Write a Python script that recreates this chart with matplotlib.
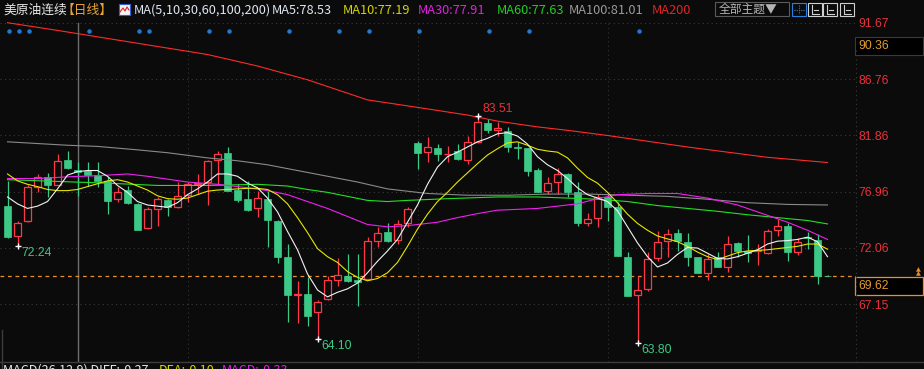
import numpy as np
import matplotlib.pyplot as plt
from matplotlib.patches import Rectangle
from matplotlib.lines import Line2D
from matplotlib.transforms import blended_transform_factory

# ---- daily candles (oldest -> newest) ----
opens = [75.74, 73.08, 74.38, 77.34, 78.27, 77.55, 79.75, 78.85, 78.73, 78.38,
         77.92, 76.29, 77.14, 75.92, 73.80, 75.42, 76.24, 75.60, 76.70, 77.63,
         77.77, 79.75, 80.36, 77.14, 76.35, 75.54, 76.35, 74.44, 71.30, 67.94,
         68.06, 66.46, 67.62, 69.28, 69.65, 69.30, 69.36, 72.64, 73.48, 72.76,
         74.20, 81.20, 80.42, 80.76, 80.20, 80.53, 79.72, 81.25, 82.97, 82.33,
         82.21, 80.88, 80.73, 78.88, 76.99, 77.77, 78.50, 76.96, 74.23, 74.67,
         76.47, 75.60, 71.30, 67.97, 68.49, 71.19, 72.64, 73.39, 72.61, 71.24,
         69.85, 71.24, 70.43, 72.52, 71.77, 71.77, 71.59, 73.62, 74.00, 71.68,
         73.04, 72.76, 69.66]
highs = [77.92, 74.44, 77.50, 78.50, 78.60, 80.24, 80.53, 79.51, 79.50, 79.50,
         78.20, 77.34, 77.48, 75.95, 75.66, 76.47, 76.30, 77.77, 77.77, 78.50,
         79.70, 80.53, 80.88, 77.63, 77.86, 77.05, 77.05, 74.50, 72.40, 69.22,
         69.50, 67.53, 69.65, 71.19, 71.50, 71.50, 72.99, 73.85, 74.23, 74.50,
         75.60, 81.40, 81.75, 81.12, 80.97, 81.12, 81.78, 83.51, 83.29, 83.00,
         82.62, 81.25, 80.75, 79.02, 78.27, 79.02, 78.55, 77.83, 75.13, 76.76,
         76.76, 76.03, 71.68, 69.65, 71.68, 73.57, 73.68, 73.70, 73.36, 71.30,
         71.53, 71.68, 73.13, 72.55, 73.21, 72.41, 73.71, 74.58, 74.23, 72.93,
         73.42, 73.27, 69.70]
lows = [72.95, 72.24, 74.30, 76.90, 76.47, 77.50, 78.90, 76.61, 77.48, 77.34,
        75.02, 76.03, 75.89, 73.60, 73.75, 74.00, 74.87, 75.55, 76.03, 76.76,
        75.80, 77.63, 77.00, 76.03, 75.30, 74.72, 72.17, 70.72, 65.60, 65.50,
        65.30, 64.10, 67.55, 68.78, 69.07, 67.00, 69.30, 72.11, 72.60, 72.41,
        73.85, 78.93, 79.51, 79.66, 79.51, 79.72, 79.37, 81.20, 82.04, 81.84,
        80.40, 79.80, 78.35, 76.90, 76.76, 76.76, 76.47, 74.00, 74.00, 73.85,
        74.44, 71.35, 67.90, 63.80, 68.35, 70.96, 71.24, 71.83, 70.52, 69.85,
        69.30, 70.37, 69.94, 71.30, 70.81, 70.58, 71.55, 73.07, 70.90, 71.45,
        71.97, 68.93, 69.60]
closes = [72.99, 74.26, 77.37, 78.27, 77.55, 79.66, 79.00, 78.68, 78.38, 77.86,
          76.18, 76.90, 76.00, 73.65, 75.45, 76.32, 75.60, 76.55, 77.60, 77.74,
          79.66, 80.24, 77.05, 76.27, 75.39, 76.41, 74.52, 71.30, 67.99, 68.06,
          66.11, 67.36, 69.28, 69.74, 69.22, 69.07, 72.70, 73.36, 72.64, 74.15,
          75.45, 80.30, 80.85, 80.24, 80.26, 79.77, 81.29, 83.05, 82.33, 82.50,
          80.82, 80.73, 78.79, 76.96, 77.72, 78.50, 76.96, 74.20, 74.58, 76.53,
          75.60, 71.39, 67.91, 68.40, 71.08, 72.55, 73.27, 72.64, 71.24, 69.85,
          71.10, 70.37, 72.41, 71.77, 71.59, 71.91, 73.57, 74.00, 71.68, 72.61,
          72.93, 69.62, 69.62]

# ---- moving average lines as drawn on the chart ----
ma5 = [76.5, 75.9, 75.5, 75.7, 76.1, 77.2, 78.4, 78.7, 78.8, 78.8,
       78.3, 77.5, 76.9, 76.1, 75.8, 75.7, 75.6, 76.0, 76.7, 77.2,
       77.8, 78.5, 78.5, 78.3, 77.7, 77.3, 76.4, 75.2, 73.5, 71.9,
       69.8, 68.4, 67.8, 68.2, 68.5, 69.0, 69.9, 70.9, 71.8, 72.8,
       74.3, 75.8, 77.6, 79.1, 80.0, 80.4, 80.85, 81.3, 81.6, 82.0,
       82.1, 81.8, 81.1, 80.0, 79.3, 78.8, 78.1, 77.3, 76.7, 76.4,
       76.1, 75.3, 73.9, 72.5, 71.3, 70.4, 70.75, 71.5, 72.1, 72.05,
       71.6, 71.15, 71.1, 71.3, 71.6, 71.9, 72.4, 72.65, 72.7, 72.8,
       73.0, 72.6, 71.3]
ma10 = [78.5, 77.9, 77.6, 77.4, 77.15, 77.05, 77.05, 77.15, 77.4, 77.65,
        77.9, 78.0, 77.8, 77.45, 77.1, 76.6, 76.35, 76.3, 76.4, 76.7,
        77.0, 77.1, 77.15, 77.2, 77.25, 77.25, 77.15, 76.7, 75.9, 74.7,
        73.4, 72.0, 71.3, 70.8, 70.0, 69.5, 69.2, 69.4, 69.9, 70.8,
        72.2, 73.7, 75.0, 76.1, 76.9, 77.8, 78.6, 79.4, 80.15, 80.7,
        81.2, 81.3, 81.0, 80.65, 80.5, 80.4, 79.9, 79.0, 78.2, 77.7,
        76.9, 76.0, 75.0, 74.2, 73.6, 73.1, 72.85, 72.6, 72.2, 71.7,
        71.3, 71.05, 71.35, 71.65, 71.8, 71.85, 71.9, 72.0, 72.1, 72.2,
        72.4, 72.4, 71.95]
ma30_idx = [0, 3, 6, 9, 12, 14, 18, 21, 24, 26, 28, 30, 32, 34, 36, 38, 40, 43,
            45, 47, 49, 51, 53, 55, 57, 59, 61, 64, 67, 70, 73, 76, 78, 80, 82]
ma30 = [78.1, 78.1, 78.25, 78.35, 78.5, 78.3, 77.8, 77.6, 77.3, 77.05, 76.7,
        76.1, 75.5, 74.8, 74.1, 73.9, 74.0, 74.3, 74.7, 75.05, 75.35, 75.42,
        75.5, 75.7, 75.9, 76.35, 76.7, 76.8, 76.8, 76.4, 75.8, 74.9, 74.3,
        73.6, 72.8]
ma60_idx = [0, 5, 10, 15, 20, 25, 28, 30, 32, 34, 36, 38, 40, 44, 49, 53, 56,
            59, 62, 65, 68, 71, 74, 77, 80, 82]
ma60 = [78.0, 77.85, 77.7, 77.5, 77.5, 77.6, 77.45, 77.15, 76.9, 76.55, 76.2,
        76.1, 76.2, 76.35, 76.5, 76.5, 76.4, 76.3, 76.1, 75.75, 75.5, 75.25,
        74.95, 74.7, 74.45, 74.15]
ma100_idx = [0, 3, 6, 9, 13, 16, 20, 23, 26, 29, 32, 35, 38, 42, 46, 50, 54,
             58, 62, 66, 70, 74, 78, 82]
ma100 = [81.3, 81.15, 81.0, 80.9, 80.6, 80.35, 79.9, 79.65, 79.3, 78.8, 78.3,
         77.8, 77.2, 76.8, 76.65, 76.65, 76.75, 76.75, 76.65, 76.55, 76.3,
         76.0, 75.85, 75.8]
ma200_idx = [0, 5, 10, 15, 20, 25, 30, 36, 41, 46, 49, 53, 56, 60, 64, 68, 72,
             76, 80, 82]
ma200 = [91.67, 91.0, 90.3, 89.6, 88.9, 87.9, 86.7, 84.95, 84.3, 83.63, 83.1,
         82.6, 82.3, 81.85, 81.35, 80.85, 80.4, 79.95, 79.65, 79.5]

event_idx = [0, 1, 2, 8, 13, 14, 20, 22, 28, 33, 36, 41, 48, 52, 63]  # blue dots
month_idx = [18, 41, 60]
cross_idx = 7
price_ticks = [91.67, 86.76, 81.86, 76.96, 72.06, 67.15]
last_price = 69.62
hover_price = 90.36
extremes = [(1, 72.24, 'low'), (31, 64.10, 'low'), (63, 63.80, 'low'), (47, 83.51, 'high')]

header = [(3, '美原油连续', '#e8e8e8'), (62, '【日线】', '#e8a33a'),
          (134, 'MA(5,10,30,60,100,200)', '#dfe6f0'), (272, 'MA5:78.53', '#dfe6f0'),
          (343, 'MA10:77.19', '#d4d400'), (418, 'MA30:77.91', '#e020e0'),
          (497, 'MA60:77.63', '#22cc22'), (569, 'MA100:81.01', '#9a9a9a'),
          (652, 'MA200', '#e02424')]
macd_text = [(3, 'MACD(26,12,9) DIFF:-0.27', '#e8e8e8'), (159, 'DEA:-0.10', '#d4d400'),
             (222, 'MACD:-0.33', '#e020e0')]

BG = '#0b0b0b'
UP = '#ff3847'
DOWN = '#3cc987'
ORANGE = '#e8912c'
W, H = 924, 369
CJK = ['Noto Sans CJK SC', 'DejaVu Sans']
NUM = ['Liberation Sans', 'DejaVu Sans']


def fx(x):
    return x / W


def fy(y):
    return 1 - y / H


fig = plt.figure(figsize=(W / 100, H / 100), dpi=100)
fig.patch.set_facecolor(BG)

# main price panel: x 0..856 px, y 20..362 px
ax = fig.add_axes([0, fy(362), fx(856), (362 - 20) / H])
ax.set_facecolor(BG)
for s in ax.spines.values():
    s.set_visible(False)

x = np.arange(len(closes))
o = np.array(opens)
c = np.array(closes)
up = c >= o

# wicks then bodies (red hollow = up, green filled = down)
ax.vlines(x, lows, highs, colors=np.where(up, UP, DOWN), linewidth=0.9, zorder=2)
bottoms = np.minimum(o, c)
heights = np.abs(c - o)
ax.bar(x[up], heights[up], bottom=bottoms[up], width=0.72, facecolor=BG,
       edgecolor=UP, linewidth=0.9, zorder=3)
ax.bar(x[~up], heights[~up], bottom=bottoms[~up], width=0.78, color=DOWN,
       edgecolor=DOWN, linewidth=0.5, zorder=3)

# moving averages
ax.plot(ma200_idx, ma200, color='#ff2a2a', lw=0.8, zorder=4)
ax.plot(ma100_idx, ma100, color='#8a8a8a', lw=0.8, zorder=4)
ax.plot(ma60_idx, ma60, color='#22e022', lw=0.8, zorder=4)
ax.plot(ma30_idx, ma30, color='#f020f0', lw=0.8, zorder=4)
ax.plot(x, ma10, color='#e6e600', lw=0.8, zorder=4)
ax.plot(x, ma5, color='#f2f2f2', lw=0.8, zorder=4)

# grid, crosshair, last price line
ax.set_xlim(-0.75, 84.85)
ax.set_ylim(62.13, 91.905)
ax.set_xticks([])
ax.set_yticks(price_ticks)
ax.set_yticklabels([f'{t:.2f}' for t in price_ticks], family=NUM)
ax.yaxis.tick_right()
ax.tick_params(axis='y', length=0, pad=1.5, labelcolor='#e8313c', labelsize=8.8)
ax.grid(axis='y', color='#3a3a3a', linestyle=(0, (1, 3)), lw=0.8)
for m in month_idx:
    ax.axvline(m, color='#343434', linestyle=(0, (1, 3)), lw=0.8, zorder=1)
ax.axvline(cross_idx, ymax=(362 - 22.7) / 342, color='#6e6e6e', lw=1, zorder=1)
ax.axhline(last_price, color=ORANGE, linestyle=(0, (3, 3)), lw=0.9, zorder=1)

# event dots along the top
trans = blended_transform_factory(ax.transData, ax.transAxes)
ax.scatter(np.array(event_idx) + 0.15, [0.968] * len(event_idx), transform=trans,
           s=5, color='#1f78d2', zorder=5, clip_on=False)

# high / low markers
for i, val, kind in extremes:
    ax.plot(i, val, marker='+', color='white', ms=5, mew=1, zorder=6)
    if kind == 'high':
        ax.annotate(f'{val:.2f}', (i, val), xytext=(3.5, 5.5), textcoords='offset points',
                    color='#e8313c', fontsize=8.8, family=NUM, va='center', ha='left')
    else:
        ax.annotate(f'{val:.2f}', (i, val), xytext=(3, -5), textcoords='offset points',
                    color='#3cc987', fontsize=8.8, family=NUM, va='center', ha='left')

# right side boxes
fig.add_artist(Rectangle((fx(855), fy(55)), fx(68), 18 / H, transform=fig.transFigure,
                         facecolor='#000000', edgecolor='#3a3a3a', lw=0.8))
fig.text(fx(858), fy(46), f'{hover_price:.2f}', color='#e39a2d', fontsize=8.8,
         family=NUM, va='center', ha='left')
fig.add_artist(Rectangle((fx(855), fy(295)), fx(68), 18 / H, transform=fig.transFigure,
                         facecolor='#000000', edgecolor=ORANGE, lw=0.9))
fig.text(fx(858), fy(286), f'{last_price:.2f}', color='#e39a2d', fontsize=8.8,
         family=NUM, va='center', ha='left')
fig.text(fx(918), fy(270), '▲', color=ORANGE, fontsize=4.5, ha='center', va='center')
fig.text(fx(918), fy(274), '▲', color=ORANGE, fontsize=4.5, ha='center', va='center')

# frame lines
fig.add_artist(Line2D([fx(856), fx(856)], [fy(50), fy(362)], transform=fig.transFigure,
                      color='#3a3a3a', lw=0.8, linestyle=(0, (1, 3))))
fig.add_artist(Line2D([0, 1], [fy(362), fy(362)], transform=fig.transFigure,
                      color='#3c3c3c', lw=1))
fig.add_artist(Line2D([fx(2), fx(2)], [0, fy(330)], transform=fig.transFigure,
                      color='#3c3c3c', lw=1))

# header line
for hx, txt, col in header:
    fig.text(fx(hx), fy(10.5), txt, color=col, fontsize=9.2, family=CJK,
             va='center', ha='left')
fig.add_artist(Rectangle((fx(119), fy(15)), fx(11), 11 / H, transform=fig.transFigure,
                         facecolor='#f4f4f4', edgecolor='#3060d0', lw=0.8))
fig.add_artist(Line2D([fx(120), fx(123), fx(125), fx(127), fx(129)],
                      [fy(12), fy(8), fy(11), fy(7), fy(10)], transform=fig.transFigure,
                      color='#e02020', lw=0.8))

# theme button and toolbar icons
fig.add_artist(Rectangle((fx(715), fy(16)), fx(74), 14 / H, transform=fig.transFigure,
                         facecolor='none', edgecolor='#5a5a5a', lw=0.8))
fig.text(fx(719), fy(9), '全部主题▼', color='#b4b4b4', fontsize=8.5, family=CJK,
         va='center', ha='left')
for bx, col in [(792, '#2a80d8'), (808, '#d0d0d0'), (823, '#d0d0d0'), (840, '#d0d0d0')]:
    fig.add_artist(Rectangle((fx(bx), fy(16)), fx(14), 13 / H, transform=fig.transFigure,
                             facecolor='none', edgecolor=col, lw=0.8))
fig.add_artist(Line2D([fx(799), fx(799)], [fy(5), fy(14)], transform=fig.transFigure,
                      color='#2a80d8', lw=0.8, linestyle=(0, (1, 1))))
fig.add_artist(Line2D([fx(794), fx(804)], [fy(9.5), fy(9.5)], transform=fig.transFigure,
                      color='#2a80d8', lw=0.8, linestyle=(0, (1, 1))))
for bx in [808, 823, 840]:
    fig.add_artist(Line2D([fx(bx + 4), fx(bx + 4), fx(bx + 11)], [fy(5), fy(14), fy(14)],
                          transform=fig.transFigure, color='#d0d0d0', lw=0.8))
    fig.add_artist(Line2D([fx(bx + 6), fx(bx + 10)], [fy(9.5), fy(9.5)],
                          transform=fig.transFigure, color='#d0d0d0', lw=0.8))

# MACD caption, cut off at the bottom edge
for mx, txt, col in macd_text:
    fig.text(fx(mx), fy(364), txt, color=col, fontsize=9, family=CJK,
             va='top', ha='left')

fig.savefig('out.png', dpi=100, facecolor=BG)
